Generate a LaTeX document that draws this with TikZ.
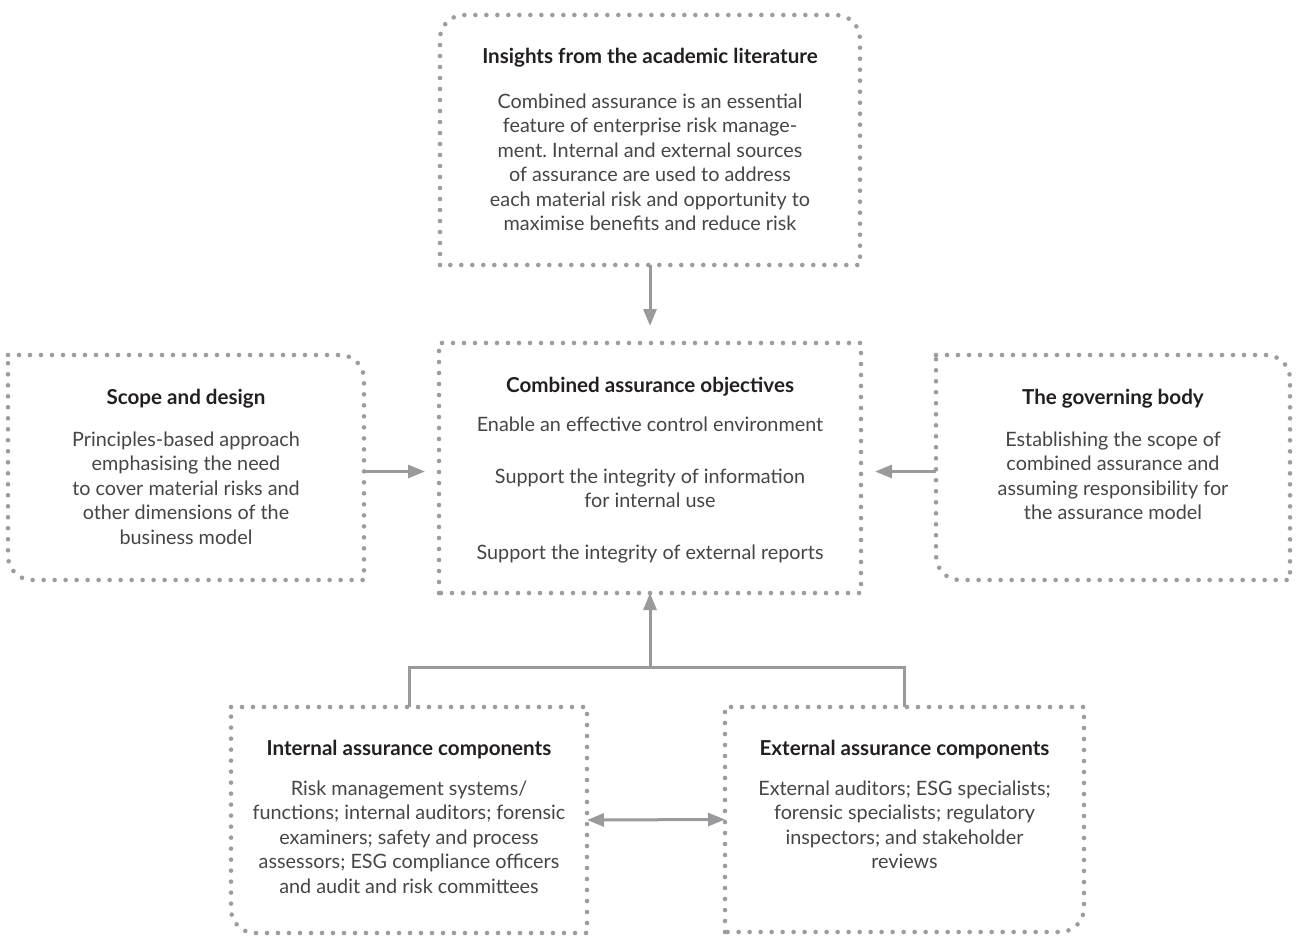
\documentclass[tikz,border=0pt]{standalone}
\usepackage{fontspec}
\setmainfont{Lato}
\frenchspacing
\usetikzlibrary{positioning,arrows.meta}
\definecolor{dotgray}{HTML}{9D9D9D}
\definecolor{arrowgray}{HTML}{9A9A9C}
\definecolor{titlegray}{HTML}{231F20}
\definecolor{bodygray}{HTML}{454545}
\newcommand{\boxhead}[1]{{\fontsize{20.6}{24.5}\selectfont\textcolor{titlegray}{\bfseries #1}}}

\begin{document}
\begin{tikzpicture}[x=1pt,y=1pt,
  frame/.style={inner sep=0pt,outer sep=0pt},
  dotline/.style={draw=dotgray,line width=4.6pt,line cap=round,dash pattern=on 0pt off 11pt},
  boxtext/.style={align=center,inner sep=0pt,text=bodygray,font=\fontsize{19.8}{24.5}\selectfont},
  plain/.style={draw=arrowgray,line width=3pt},
  link/.style={plain,-{Triangle[length=17pt,width=13pt]}}]
\useasboundingbox (0,0) rectangle (1296,-936);

% frames
\node[frame,minimum width=420pt,minimum height=250pt] (lit) at (650,-140) {};
\node[frame,minimum width=422pt,minimum height=250pt] (obj) at (650,-468) {};
\node[frame,minimum width=356pt,minimum height=225pt] (scope) at (186,-467.5) {};
\node[frame,minimum width=354pt,minimum height=225pt] (gov) at (1113,-467.5) {};
\node[frame,minimum width=356pt,minimum height=226pt] (int) at (409,-820) {};
\node[frame,minimum width=359pt,minimum height=225pt] (ext) at (904.5,-819.5) {};

% dotted outlines
\draw[dotline] (lit.south west) -- ([yshift=-24pt]lit.north west) arc[start angle=180,end angle=90,radius=24pt]
  -- ([xshift=-24pt]lit.north east) arc[start angle=90,end angle=0,radius=24pt] -- (lit.south east) -- cycle;
\draw[dotline] (obj.south west) rectangle (obj.north east);
\draw[dotline] (scope.north west) -- ([xshift=-24pt]scope.north east) arc[start angle=90,end angle=0,radius=24pt]
  -- (scope.south east) -- ([xshift=24pt]scope.south west) arc[start angle=270,end angle=180,radius=24pt] -- cycle;
\draw[dotline] (gov.north west) -- ([xshift=-24pt]gov.north east) arc[start angle=90,end angle=0,radius=24pt]
  -- (gov.south east) -- ([xshift=24pt]gov.south west) arc[start angle=270,end angle=180,radius=24pt] -- cycle;
\draw[dotline] (int.north west) -- (int.north east) -- (int.south east)
  -- ([xshift=24pt]int.south west) arc[start angle=270,end angle=180,radius=24pt] -- cycle;
\draw[dotline] (ext.south west) -- (ext.north west) -- (ext.north east)
  -- ([yshift=24pt]ext.south east) arc[start angle=0,end angle=-90,radius=24pt] -- cycle;

% texts
\node[boxtext,below=33pt of lit.north] (litText) {\boxhead{Insights from the academic literature}\\[20pt]
  Combined assurance is an essential\\ feature of enterprise risk manage-\\ ment. Internal and external sources\\
  of assurance are used to address\\ each material risk and opportunity to\\ maximise benefits and reduce risk};
\node[boxtext,below=34pt of obj.north] (objText) {\boxhead{Combined assurance objectives}\\[14pt]
  Enable an effective control environment\\[27.5pt] Support the integrity of information\\ for internal use\\[27.5pt]
  Support the integrity of external reports};
\node[boxtext,below=34pt of scope.north] (scopeText) {\boxhead{Scope and design}\\[17pt]
  Principles-based approach\\ emphasising the need\\ to cover material risks and\\ other dimensions of the\\ business model};
\node[boxtext,below=34pt of gov.north] (govText) {\boxhead{The governing body}\\[17pt]
  Establishing the scope of\\ combined assurance and\\ assuming responsibility for\\ the assurance model};
\node[boxtext,below=33pt of int.north] (intText) {\boxhead{Internal assurance components}\\[15pt]
  Risk management systems/\\ functions; internal auditors; forensic\\ examiners; safety and process\\
  assessors; ESG compliance officers\\ and audit and risk committees};
\node[boxtext,below=33pt of ext.north] (extText) {\boxhead{External assurance components}\\[15pt]
  External auditors; ESG specialists;\\ forensic specialists; regulatory\\ inspectors; and stakeholder\\ reviews};

% connectors
\coordinate (joint) at (650,-667);
\draw[link,shorten >=17pt] (lit) -- (obj);
\draw[link,shorten >=14pt] ([yshift=-4pt]scope.east) -- ([yshift=-4pt]scope.east -| obj.west);
\draw[link,shorten >=14pt] ([yshift=-4pt]gov.west) -- ([yshift=-4pt]gov.west -| obj.east);
\draw[plain] (int.north) |- (joint) -| (ext.north);
\draw[link] (joint) -- (obj.south);
\draw[link,{Triangle[length=17pt,width=13pt]}-{Triangle[length=17pt,width=13pt]}] (int.east) -- (ext.west);
\end{tikzpicture}
\end{document}
